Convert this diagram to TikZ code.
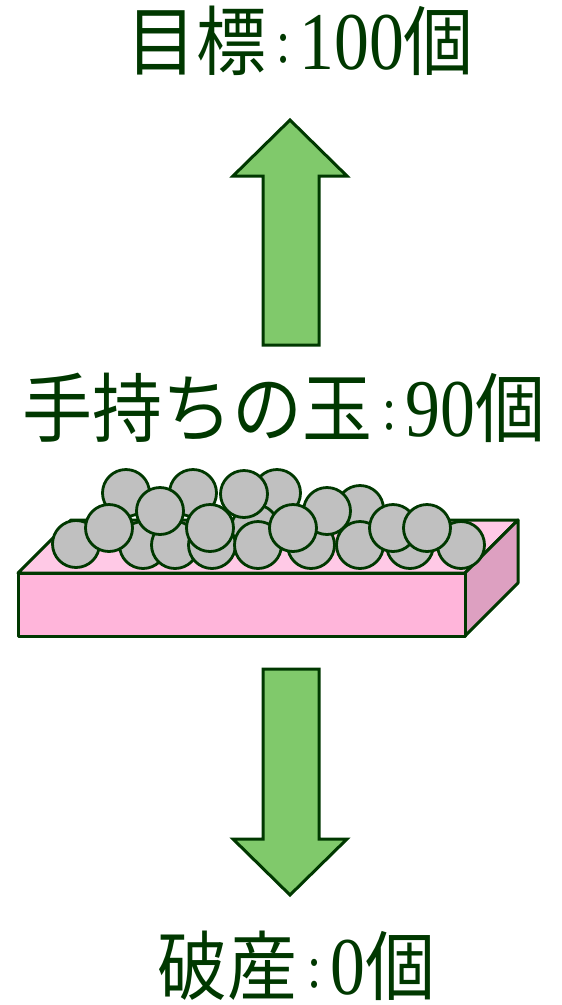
\documentclass[tikz,border=0pt]{standalone}
\usepackage{graphicx}
\usepackage{fontspec}
\newfontfamily\jpfont{Noto Sans CJK JP}
\newfontfamily\numfont[FakeStretch=0.85]{Liberation Serif}

\definecolor{leaf}{RGB}{0,56,0}
\definecolor{arrowgreen}{RGB}{128,201,107}
\definecolor{ballgray}{RGB}{192,192,192}
\definecolor{boxfront}{RGB}{255,181,218}
\definecolor{boxtop}{RGB}{255,201,230}
\definecolor{boxside}{RGB}{221,160,193}

% kanji and kana a little taller than the font draws them
\newcommand{\jp}[1]{\scalebox{1}[1.08]{\jpfont\fontsize{70}{70}\selectfont #1}}

% one line of text: word, colon, count, then the counter word (no depth)
\newcommand{\countline}[2]{\raisebox{0pt}[\height][0pt]{%
  \jp{#1}%
  \hspace{10pt}\raisebox{7pt}{\numfont\fontsize{60}{60}\selectfont :}\hspace{9pt}%
  {\numfont\fontsize{82}{82}\selectfont #2}%
  \jp{個}}}

\begin{document}
\begin{tikzpicture}[
            x=1pt, y=-1pt,
            textline/.style={
                text=leaf,
                inner sep=0pt,
                anchor=base west
            },
            blockarrow/.style={
                draw=leaf,
                line width=3pt,
                fill=arrowgreen
            },
            boxface/.style={
                draw=leaf,
                line width=3pt,
                line join=round
            },
            ball/.style={
                circle,
                draw=leaf,
                line width=2.8pt,
                fill=ballgray,
                minimum size=47pt,
                inner sep=0pt
            }
        ]

            \useasboundingbox (0,0) rectangle (562,1005);

            \node[textline] (goal) at (126,69) {\countline{目標}{100}};
            \node[textline] (hand) at (22,436) {\countline{手持ちの玉}{90}};
            \node[textline] (bust) at (157,994) {\countline{破産}{0}};

            % up and down arrows
            \draw[blockarrow] (263,345) -- (263,176) -- (233,176) -- (290,120)
                -- (347,176) -- (319,176) -- (319,345) -- cycle;
            \draw[blockarrow] (263,669) -- (263,839) -- (233,839) -- (290,895)
                -- (347,839) -- (319,839) -- (319,669) -- cycle;

            % the tray
            \draw[boxface, fill=boxtop] (18,573) -- (71,520) -- (518,520) -- (465,573) -- cycle;
            \draw[boxface, fill=boxside] (465,573) -- (518,520) -- (518,583) -- (465,636) -- cycle;
            \draw[boxface, fill=boxfront] (18,573) rectangle (465,636);

            % balls, back to front
            \foreach \x/\y [count=\i] in {126/493, 193/493, 277/493, 360/509, 255/528, 244/494}
                \node[ball] (back\i) at (\x,\y) {};
            \foreach \x/\y [count=\i] in {76/544, 143/545, 175/545, 212/545, 258/545,
                    311/545, 360/545, 410/545, 461/545}
                \node[ball] (low\i) at (\x,\y) {};
            \foreach \x/\y [count=\i] in {109/528, 160/511, 210/528, 327/511, 293/528,
                    393/528, 427/528}
                \node[ball] (mid\i) at (\x,\y) {};

        \end{tikzpicture}
\end{document}
